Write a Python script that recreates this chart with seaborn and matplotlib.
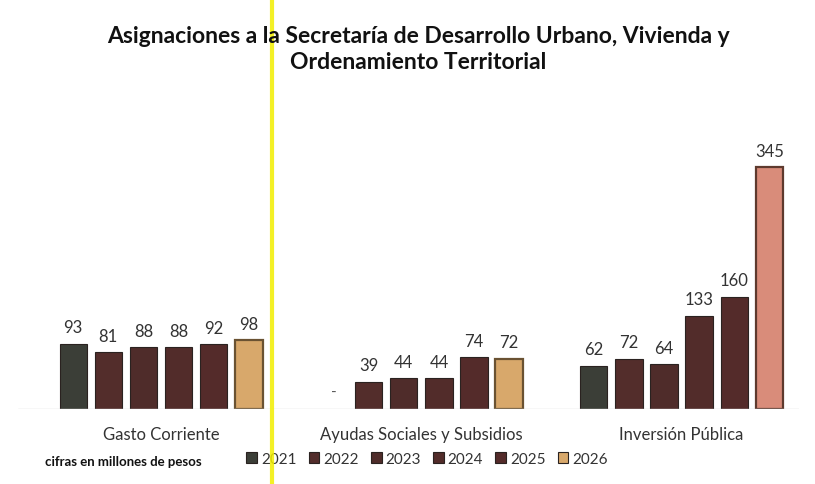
#!/usr/bin/env python3

import numpy as np
import pandas as pd
import matplotlib
matplotlib.use("Agg")
import matplotlib.pyplot as plt
from matplotlib.lines import Line2D
import seaborn as sns

# Data (cifras en millones de pesos)
categories = ["Gasto Corriente", "Ayudas Sociales y Subsidios", "Inversión Pública"]
years = ["2021", "2022", "2023", "2024", "2025", "2026"]
gasto_corriente = [93, 81, 88, 88, 92, 98]
ayudas_sociales = [np.nan, 39, 44, 44, 74, 72]
inversion_publica = [62, 72, 64, 133, 160, 345]

title = "Asignaciones a la Secretaría de Desarrollo Urbano, Vivienda y\nOrdenamiento Territorial"
note = "cifras en millones de pesos"

# Colours per year
palette = ["#3b3e37", "#532d2b", "#4f2c2a", "#522c2a", "#542b2a", "#d8a86b"]

# Long table for seaborn
rows = []
for cat, vals in zip(categories, [gasto_corriente, ayudas_sociales, inversion_publica]):
    for yr, v in zip(years, vals):
        rows.append({"categoria": cat, "anio": yr, "valor": v})
df = pd.DataFrame(rows)

sns.set_style("white")
plt.rcParams["font.family"] = ["Lato", "DejaVu Sans"]

fig = plt.figure(figsize=(8.15, 4.85), dpi=100)
ax = fig.add_axes([0.022, 0.1546, 0.958, 0.5567])

width = 0.81
sns.barplot(data=df, x="categoria", y="valor", hue="anio", palette=palette,
            width=width, gap=0.22, ax=ax, edgecolor="#2a2220", linewidth=0.8,
            saturation=1)

# 2026 bars: tan with darker bevel edge, the big one pinkish
last = ax.containers[-1]
for p in last.patches:
    p.set_edgecolor("#6a5232")
    p.set_linewidth(1.6)
last.patches[-1].set_facecolor("#d98c7a")
last.patches[-1].set_edgecolor("#5e3a2e")

# value labels
for cont in ax.containers:
    ax.bar_label(cont, labels=[f"{v:.0f}" for v in cont.datavalues],
                 padding=6, fontsize=12, color="#333333")

# missing 2021 value in Ayudas Sociales
slot = width / len(years)
for ci, cat in enumerate(categories):
    for hi, yr in enumerate(years):
        v = df[(df.categoria == cat) & (df.anio == yr)]["valor"].iloc[0]
        if np.isnan(v):
            ax.text(ci + (hi - (len(years) - 1) / 2) * slot, 24, "-",
                    ha="center", va="center", fontsize=11, color="#555555")

ax.set_xlim(-0.55, 2.45)
ax.set_ylim(0, 385)
ax.axhline(0, color="#d8d8d8", lw=1)
ax.set_xlabel("")
ax.set_ylabel("")
ax.set_yticks([])
ax.tick_params(axis="x", length=0, pad=12, labelsize=12, labelcolor="#333333")
sns.despine(ax=ax, left=True, bottom=True)

sns.move_legend(ax, "center", bbox_to_anchor=(0.524, -0.185), ncol=6,
                frameon=False, title=None, fontsize=11, handlelength=0.7,
                handleheight=0.7, handletextpad=0.25, columnspacing=0.8)
for t in ax.get_legend().get_texts():
    t.set_color("#333333")

fig.text(0.5135, 0.898, title, ha="center", va="center", fontsize=16.5,
         fontweight="bold", color="#111111", linespacing=1.25)
fig.text(0.055, 0.048, note, ha="left", va="center", fontsize=9.5,
         fontweight="bold", color="#111111")

# yellow highlighter stroke from the scan
fig.add_artist(Line2D([0.334, 0.334], [0, 1], color="#f2ee00", lw=3, alpha=0.85))

fig.savefig("out.png", dpi=100, facecolor="white")
